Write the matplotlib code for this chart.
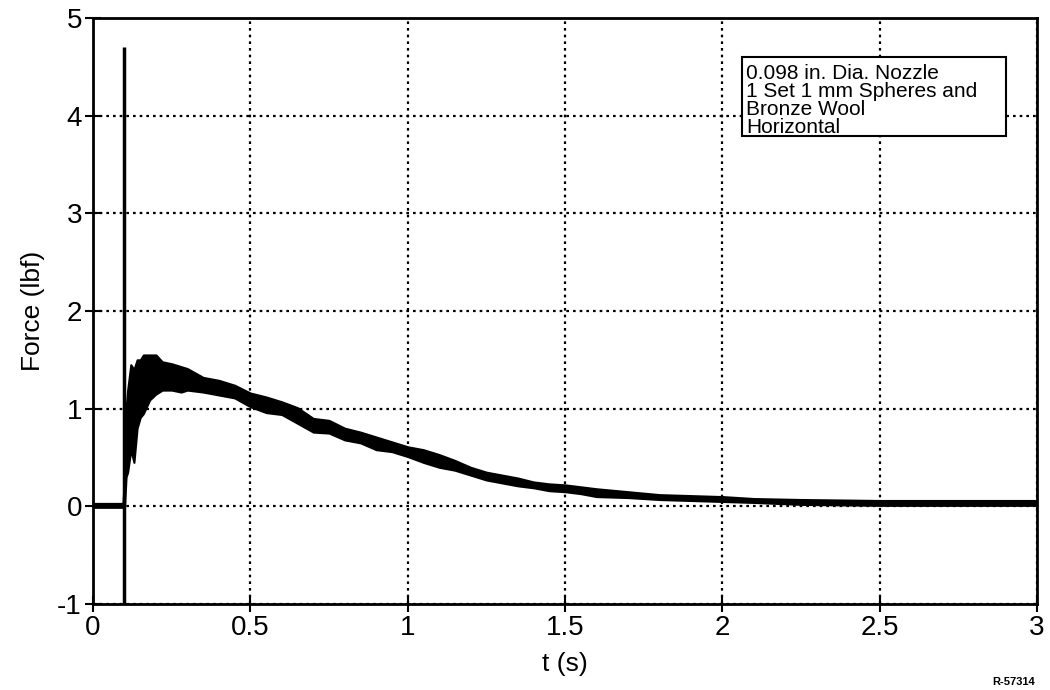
import matplotlib.pyplot as plt
from matplotlib.patches import Rectangle

plt.rcParams['font.family'] = ['Liberation Sans', 'DejaVu Sans']

# force trace envelope (lbf) read at selected times
t_band = [0.0, 0.05, 0.095, 0.10, 0.105, 0.11, 0.12, 0.13, 0.14, 0.15, 0.16,
          0.18, 0.20, 0.22, 0.25, 0.28, 0.30, 0.35, 0.40, 0.45, 0.50, 0.55,
          0.60, 0.65, 0.70, 0.75, 0.80, 0.85, 0.90, 0.95, 1.00, 1.05, 1.10,
          1.15, 1.20, 1.25, 1.30, 1.35, 1.40, 1.45, 1.50, 1.55, 1.60, 1.70,
          1.80, 1.90, 2.00, 2.10, 2.25, 2.50, 2.75, 3.00]
f_low = [-0.01, -0.01, -0.01, 0.0, 0.30, 0.35, 0.58, 0.45, 0.80, 0.91, 0.95,
         1.09, 1.15, 1.19, 1.19, 1.17, 1.19, 1.17, 1.14, 1.11, 1.02, 0.96,
         0.94, 0.85, 0.76, 0.75, 0.68, 0.65, 0.58, 0.56, 0.51, 0.45, 0.40,
         0.37, 0.32, 0.27, 0.24, 0.21, 0.19, 0.16, 0.15, 0.13, 0.10, 0.09,
         0.07, 0.06, 0.05, 0.04, 0.02, 0.01, 0.01, 0.01]
f_high = [0.03, 0.03, 0.03, 0.30, 1.00, 1.19, 1.45, 1.40, 1.50, 1.50, 1.55,
          1.55, 1.55, 1.48, 1.46, 1.43, 1.41, 1.32, 1.29, 1.24, 1.16, 1.12,
          1.07, 1.01, 0.90, 0.88, 0.80, 0.76, 0.71, 0.66, 0.61, 0.58, 0.53,
          0.47, 0.40, 0.35, 0.32, 0.29, 0.25, 0.23, 0.22, 0.20, 0.18, 0.15,
          0.12, 0.11, 0.10, 0.08, 0.07, 0.06, 0.06, 0.06]

# ignition spike
spike_t = 0.1
spike_min = -1.0
spike_max = 4.7

x_ticks = [0, 0.5, 1, 1.5, 2, 2.5, 3]
x_labels = ['0', '0.5', '1', '1.5', '2', '2.5', '3']
y_ticks = [-1, 0, 1, 2, 3, 4, 5]
y_labels = ['-1', '0', '1', '2', '3', '4', '5']

note = "0.098 in. Dia. Nozzle\n1 Set 1 mm Spheres and\nBronze Wool\nHorizontal"

fig = plt.figure(figsize=(10.5, 6.9), dpi=100)
ax = fig.add_axes([0.0886, 0.1246, 0.899, 0.8494])

ax.fill_between(t_band, f_low, f_high, color='black', lw=1.5)
ax.vlines(spike_t, spike_min, spike_max, color='black', lw=2.5)

ax.set_xlim(0, 3)
ax.set_ylim(-1, 5)
ax.set_xticks(x_ticks)
ax.set_xticklabels(x_labels)
ax.set_yticks(y_ticks)
ax.set_yticklabels(y_labels)

ax.grid(True, color='black', linestyle=(0, (1.2, 1.8)), lw=1.6)
for s in ax.spines.values():
    s.set_linewidth(2)
ax.tick_params(direction='inout', length=12, width=1.5, labelsize=20, pad=2)

ax.set_xlabel('t (s)', fontsize=19, labelpad=8)
ax.set_ylabel('Force (lbf)', fontsize=19, labelpad=9)

# annotation box
ax.add_patch(Rectangle((0.6875, 0.7986), 0.2795, 0.1348, transform=ax.transAxes,
                       fc='white', ec='black', lw=1.5, zorder=5))
ax.text(0.692, 0.922, note, transform=ax.transAxes, fontsize=15,
        va='top', ha='left', linespacing=0.95, zorder=6)

fig.text(0.945, 0.004, 'R-57314', fontsize=8, fontweight='bold', va='bottom')

fig.savefig('out.png', dpi=100)
